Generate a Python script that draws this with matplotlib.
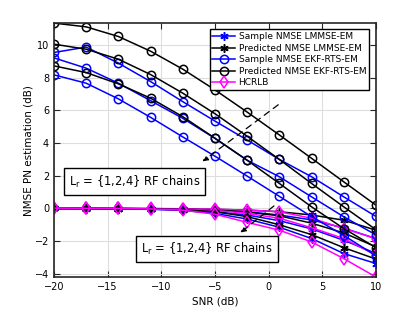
import matplotlib
matplotlib.use('Agg')
import matplotlib.pyplot as plt

snr = [-20, -17, -14, -11, -8, -5, -2, 1, 4, 7, 10]

# predicted NMSE, EKF-RTS-EM (Lr = 1, 2, 4)
pred_ekf_1 = [11.35, 11.12, 10.53, 9.63, 8.53, 7.26, 5.9, 4.5, 3.07, 1.63, 0.2]
pred_ekf_2 = [10.06, 9.75, 9.14, 8.2, 7.06, 5.8, 4.42, 3.0, 1.53, 0.1, -1.3]
pred_ekf_4 = [8.73, 8.32, 7.63, 6.75, 5.62, 4.3, 2.95, 1.53, 0.1, -1.23, -2.4]
# sample NMSE, EKF-RTS-EM
samp_ekf_1 = [9.55, 9.88, 8.9, 7.77, 6.54, 5.35, 4.19, 3.0, 1.94, 0.71, -0.49]
samp_ekf_2 = [9.22, 8.59, 7.67, 6.6, 5.52, 4.29, 2.95, 1.94, 0.71, -0.51, -1.62]
samp_ekf_4 = [8.18, 7.67, 6.71, 5.58, 4.38, 3.2, 1.98, 0.74, -0.5, -1.65, -2.9]
# predicted NMSE, LMMSE-EM
pred_lm_1 = [0.0, 0.0, 0.0, -0.01, -0.03, -0.05, -0.1, -0.2, -0.4, -0.72, -1.33]
pred_lm_2 = [0.0, 0.0, -0.01, -0.02, -0.05, -0.1, -0.22, -0.45, -0.9, -1.5, -2.35]
pred_lm_4 = [0.0, 0.0, -0.01, -0.03, -0.08, -0.2, -0.5, -1.0, -1.6, -2.4, -3.1]
# sample NMSE, LMMSE-EM
samp_lm_1 = [0.0, 0.0, -0.01, -0.02, -0.05, -0.1, -0.2, -0.4, -0.7, -1.2, -1.85]
samp_lm_2 = [0.0, -0.01, -0.02, -0.04, -0.08, -0.2, -0.4, -0.75, -1.25, -1.95, -2.75]
samp_lm_4 = [0.0, -0.01, -0.02, -0.05, -0.12, -0.3, -0.65, -1.15, -1.84, -2.76, -3.37]
# HCRLB
hcrlb_1 = [0.02, 0.02, 0.01, 0.0, -0.02, -0.05, -0.1, -0.2, -0.6, -1.23, -1.84]
hcrlb_2 = [0.02, 0.02, 0.0, -0.02, -0.05, -0.12, -0.3, -0.6, -1.18, -1.84, -2.86]
hcrlb_4 = [0.02, 0.01, 0.0, -0.03, -0.1, -0.35, -0.85, -1.33, -2.05, -3.07, -4.2]

fig = plt.figure(figsize=(4.15, 3.12), dpi=100)
ax = fig.add_axes([0.130, 0.112, 0.776, 0.814])

lw = 1.1
ms = 6
star = dict(marker=(6, 2, 0), ms=6, mew=1.1, lw=lw)  # asterisk like matlab '*'
circ = dict(marker='o', ms=ms, mfc='none', mew=1.1, lw=lw)
diam = dict(marker='d', ms=ms, mfc='none', mew=1.1, lw=lw)

for i, (y1, y2, y3, y4, y5) in enumerate([
        (samp_lm_1, pred_lm_1, samp_ekf_1, pred_ekf_1, hcrlb_1),
        (samp_lm_2, pred_lm_2, samp_ekf_2, pred_ekf_2, hcrlb_2),
        (samp_lm_4, pred_lm_4, samp_ekf_4, pred_ekf_4, hcrlb_4)]):
    ax.plot(snr, y1, color='blue', label='Sample NMSE LMMSE-EM' if i == 0 else None, **star)
    ax.plot(snr, y2, color='black', label='Predicted NMSE LMMSE-EM' if i == 0 else None, **star)
    ax.plot(snr, y3, color='blue', label='Sample NMSE EKF-RTS-EM' if i == 0 else None, **circ)
    ax.plot(snr, y4, color='black', label='Predicted NMSE EKF-RTS-EM' if i == 0 else None, **circ)
    ax.plot(snr, y5, color='magenta', label='HCRLB' if i == 0 else None, **diam)

ax.set_xlim(-20, 10)
ax.set_ylim(-4.2, 11.35)
ax.set_xticks([-20, -15, -10, -5, 0, 5, 10])
ax.set_yticks([-4, -2, 0, 2, 4, 6, 8, 10])
ax.grid(True, color='#dedede', lw=0.8)
ax.set_axisbelow(True)
ax.tick_params(direction='in', top=True, right=True, labelsize=7, length=4, color='#262626')
for s in ax.spines.values():
    s.set_linewidth(1.2)
    s.set_color('#262626')
ax.set_xlabel('SNR (dB)', fontsize=7.5, labelpad=3)
ax.set_ylabel('NMSE PN estimation (dB)', fontsize=7.5, labelpad=1)

leg = ax.legend(loc='upper right', bbox_to_anchor=(0.978, 0.975), fontsize=6.5, fancybox=False,
                framealpha=1, edgecolor='black', handlelength=2.5, labelspacing=0.28,
                borderpad=0.3, handletextpad=0.4, borderaxespad=0)
leg.get_frame().set_linewidth(1.0)

box = dict(boxstyle='square,pad=0.45', fc='white', ec='black', lw=1.0)
dashed = dict(arrowstyle='-|>', ls=(0, (5, 4)), color='black', lw=0.9, mutation_scale=8)
ax.annotate('', xy=(-6.37, 2.78), xytext=(1.1, 6.45), arrowprops=dashed)
ax.annotate('', xy=(-2.84, -1.58), xytext=(0.7, 0.26), arrowprops=dashed)
ax.text(-12.5, 1.65, r'L$_\mathregular{r}$ = {1,2,4} RF chains', fontsize=8.3, ha='center', va='center', bbox=box)
ax.text(-5.75, -2.47, r'L$_\mathregular{r}$ = {1,2,4} RF chains', fontsize=8.3, ha='center', va='center', bbox=box)

fig.savefig('out.png', dpi=100)
